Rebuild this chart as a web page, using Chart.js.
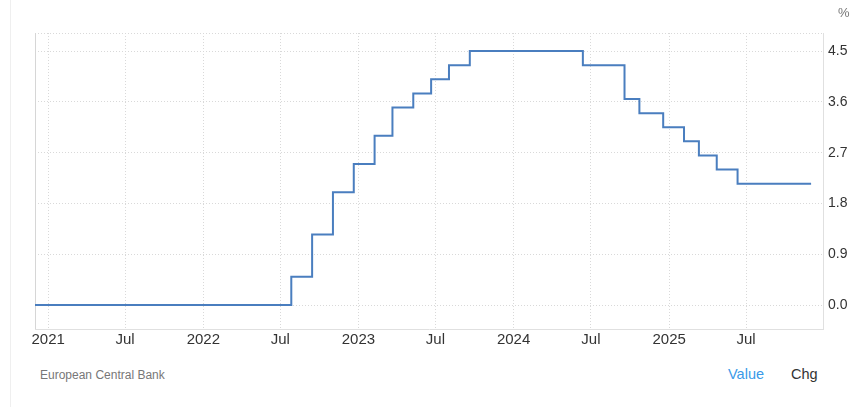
<!DOCTYPE html>
<html lang="en">
<head>
  <meta charset="UTF-8">
  <title>Euro Area Interest Rate</title>
  <script src="https://cdn.jsdelivr.net/npm/chart.js"></script>
  <style>
    body { margin: 0; background: #fff; font-family: Arial, "Liberation Sans", sans-serif; }
    .marco { position: relative; width: 868px; height: 407px; overflow: hidden; }
    .linea-izq { position: absolute; left: 10px; top: 0; width: 1px; height: 407px; background: #efefef; }
    #grafico { position: absolute; left: 0; top: 0; }
    .unidad { position: absolute; left: 838px; top: 5px; font-size: 13px; color: #777; }
    .fuente { position: absolute; left: 40px; top: 368px; font-size: 12px; color: #777; }
    .valor { position: absolute; left: 728px; top: 366px; font-size: 14.5px; color: #3a9ae8; }
    .chg { position: absolute; left: 791px; top: 366px; font-size: 14.5px; color: #333; }
  </style>
</head>
<body>
  <div class="marco">
    <div class="linea-izq"></div>
    <canvas id="grafico" width="868" height="355"></canvas>
    <div class="unidad">%</div>
    <div class="fuente">European Central Bank</div>
    <div class="valor">Value</div>
    <div class="chg">Chg</div>
  </div>

  <script>
    // fechas de cambio de tipo y valor vigente desde esa fecha
    const fechas = ['2020-12-01','2022-07-27','2022-09-14','2022-11-02','2022-12-21','2023-02-08','2023-03-22',
                    '2023-05-10','2023-06-21','2023-08-02','2023-09-20','2024-06-12','2024-09-18','2024-10-23',
                    '2024-12-18','2025-02-05','2025-03-12','2025-04-23','2025-06-11','2025-12-01'];
    const tipos = [0, 0.5, 1.25, 2, 2.5, 3, 3.5, 3.75, 4, 4.25, 4.5, 4.25, 3.65, 3.4, 3.15, 2.9, 2.65, 2.4, 2.15, 2.15];

    const marcasX = ['2021-01-01','2021-07-01','2022-01-01','2022-07-01','2023-01-01','2023-07-01',
                     '2024-01-01','2024-07-01','2025-01-01','2025-07-01'];
    const etiquetasX = ['2021','Jul','2022','Jul','2023','Jul','2024','Jul','2025','Jul'];
    const marcasY = [0, 0.9, 1.8, 2.7, 3.6, 4.5];

    const xMin = Date.parse('2020-12-01');
    const xMax = Date.parse('2025-12-29');
    const yMin = -0.425;
    const yMax = 4.82;

    const puntos = fechas.map((f, i) => ({ x: Date.parse(f), y: tipos[i] }));
    const valoresX = marcasX.map(f => Date.parse(f));

    Chart.defaults.font.family = 'Arial, "Liberation Sans", sans-serif';
    Chart.defaults.color = '#333';

    const bordeIzq = {
      id: 'bordeIzq',
      beforeDatasetsDraw(chart) {
        const { ctx, chartArea } = chart;
        ctx.save();
        ctx.strokeStyle = '#d6d6d6';
        ctx.lineWidth = 1;
        ctx.beginPath();
        ctx.moveTo(chartArea.left + 0.5, chartArea.top);
        ctx.lineTo(chartArea.left + 0.5, chartArea.bottom);
        ctx.stroke();
        ctx.restore();
      }
    };

    new Chart(document.getElementById('grafico'), {
      type: 'line',
      data: {
        datasets: [{
          data: puntos,
          borderColor: '#4a7ebf',
          borderWidth: 2,
          pointRadius: 0,
          stepped: true,
          fill: false
        }]
      },
      options: {
        responsive: false,
        animation: false,
        layout: { padding: { left: 35, top: 33, right: 0, bottom: 0 } },
        plugins: { legend: { display: false }, tooltip: { enabled: false } },
        scales: {
          x: {
            type: 'linear',
            min: xMin,
            max: xMax,
            afterBuildTicks: s => { s.ticks = valoresX.map(v => ({ value: v })); },
            afterFit: s => { s.height = 26; },
            ticks: {
              autoSkip: false,
              maxRotation: 0,
              padding: 2,
              font: { size: 15 },
              color: '#333',
              callback: (v, i) => etiquetasX[i]
            },
            grid: { color: '#d9d9d9', drawTicks: false },
            border: { color: '#e0e0e0', dash: [1, 2] }
          },
          y: {
            position: 'right',
            min: yMin,
            max: yMax,
            afterBuildTicks: s => { s.ticks = marcasY.concat([yMax]).map(v => ({ value: v })); },
            afterFit: s => { s.width = 45; },
            ticks: {
              padding: 5,
              font: { size: 14 },
              color: '#333',
              callback: v => (v === yMax ? '' : v.toFixed(1))
            },
            grid: { color: '#d9d9d9', drawTicks: false },
            border: { color: '#e0e0e0', dash: [1, 2] }
          }
        }
      },
      plugins: [bordeIzq]
    });
  </script>
</body>
</html>
